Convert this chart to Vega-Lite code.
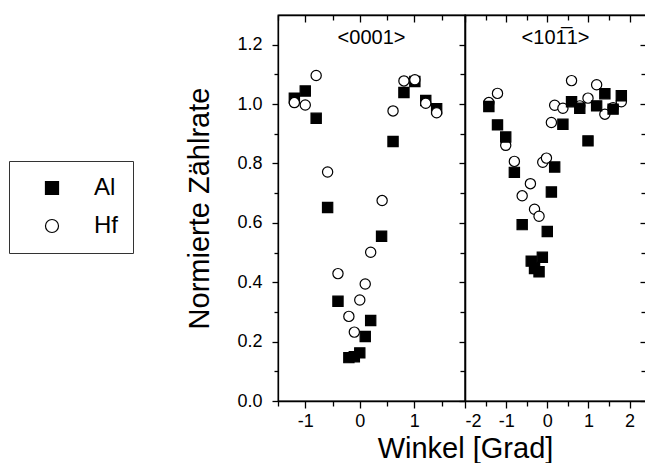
{
  "$schema": "https://vega.github.io/schema/vega-lite/v6.json",
  "padding": {"left": 8, "top": 13, "right": 0, "bottom": 0},
  "spacing": 0,
  "bounds": "flush",
  "datasets": {
    "left": [
      {"x": -1.2, "y": 1.02, "el": "Al"},
      {"x": -1.0, "y": 1.044, "el": "Al"},
      {"x": -0.8, "y": 0.952, "el": "Al"},
      {"x": -0.59, "y": 0.652, "el": "Al"},
      {"x": -0.4, "y": 0.336, "el": "Al"},
      {"x": -0.2, "y": 0.146, "el": "Al"},
      {"x": -0.1, "y": 0.149, "el": "Al"},
      {"x": 0.0, "y": 0.162, "el": "Al"},
      {"x": 0.1, "y": 0.217, "el": "Al"},
      {"x": 0.2, "y": 0.271, "el": "Al"},
      {"x": 0.4, "y": 0.555, "el": "Al"},
      {"x": 0.61, "y": 0.874, "el": "Al"},
      {"x": 0.81, "y": 1.039, "el": "Al"},
      {"x": 1.01, "y": 1.076, "el": "Al"},
      {"x": 1.21, "y": 1.012, "el": "Al"},
      {"x": 1.41, "y": 0.984, "el": "Al"},
      {"x": -1.2, "y": 1.005, "el": "Hf"},
      {"x": -1.0, "y": 0.997, "el": "Hf"},
      {"x": -0.8, "y": 1.096, "el": "Hf"},
      {"x": -0.59, "y": 0.771, "el": "Hf"},
      {"x": -0.4, "y": 0.429, "el": "Hf"},
      {"x": -0.2, "y": 0.285, "el": "Hf"},
      {"x": -0.1, "y": 0.232, "el": "Hf"},
      {"x": 0.0, "y": 0.34, "el": "Hf"},
      {"x": 0.1, "y": 0.394, "el": "Hf"},
      {"x": 0.2, "y": 0.501, "el": "Hf"},
      {"x": 0.41, "y": 0.675, "el": "Hf"},
      {"x": 0.61, "y": 0.977, "el": "Hf"},
      {"x": 0.81, "y": 1.078, "el": "Hf"},
      {"x": 1.01, "y": 1.082, "el": "Hf"},
      {"x": 1.21, "y": 1.003, "el": "Hf"},
      {"x": 1.41, "y": 0.971, "el": "Hf"}
    ],
    "right": [
      {"x": -1.42, "y": 1.005, "el": "Hf"},
      {"x": -1.21, "y": 1.036, "el": "Hf"},
      {"x": -1.01, "y": 0.861, "el": "Hf"},
      {"x": -0.8, "y": 0.807, "el": "Hf"},
      {"x": -0.61, "y": 0.691, "el": "Hf"},
      {"x": -0.41, "y": 0.732, "el": "Hf"},
      {"x": -0.31, "y": 0.646, "el": "Hf"},
      {"x": -0.2, "y": 0.622, "el": "Hf"},
      {"x": -0.11, "y": 0.804, "el": "Hf"},
      {"x": -0.02, "y": 0.818, "el": "Hf"},
      {"x": 0.1, "y": 0.938, "el": "Hf"},
      {"x": 0.18, "y": 0.996, "el": "Hf"},
      {"x": 0.38, "y": 0.986, "el": "Hf"},
      {"x": 0.59, "y": 1.079, "el": "Hf"},
      {"x": 0.79, "y": 0.994, "el": "Hf"},
      {"x": 0.99, "y": 1.02, "el": "Hf"},
      {"x": 1.2, "y": 1.065, "el": "Hf"},
      {"x": 1.4, "y": 0.966, "el": "Hf"},
      {"x": 1.6, "y": 0.988, "el": "Hf"},
      {"x": 1.8, "y": 1.008, "el": "Hf"},
      {"x": -1.42, "y": 0.992, "el": "Al"},
      {"x": -1.21, "y": 0.93, "el": "Al"},
      {"x": -1.01, "y": 0.889, "el": "Al"},
      {"x": -0.8, "y": 0.77, "el": "Al"},
      {"x": -0.61, "y": 0.594, "el": "Al"},
      {"x": -0.39, "y": 0.471, "el": "Al"},
      {"x": -0.31, "y": 0.446, "el": "Al"},
      {"x": -0.2, "y": 0.435, "el": "Al"},
      {"x": -0.12, "y": 0.484, "el": "Al"},
      {"x": 0.0, "y": 0.571, "el": "Al"},
      {"x": 0.1, "y": 0.704, "el": "Al"},
      {"x": 0.18, "y": 0.788, "el": "Al"},
      {"x": 0.38, "y": 0.932, "el": "Al"},
      {"x": 0.59, "y": 1.008, "el": "Al"},
      {"x": 0.79, "y": 0.986, "el": "Al"},
      {"x": 0.99, "y": 0.876, "el": "Al"},
      {"x": 1.2, "y": 0.994, "el": "Al"},
      {"x": 1.4, "y": 1.035, "el": "Al"},
      {"x": 1.6, "y": 0.983, "el": "Al"},
      {"x": 1.8, "y": 1.028, "el": "Al"}
    ]
  },
  "hconcat": [
    {
      "width": 187,
      "height": 386,
      "data": {"name": "left"},
      "title": {"text": "<0001>", "offset": -50, "baseline": "alphabetic", "frame": "group", "anchor": "middle", "fontSize": 20, "font": "Liberation Sans", "fontWeight": "normal", "color": "black"},
      "layer": [
        {
          "mark": {"type": "point", "filled": true, "strokeWidth": 1.2, "opacity": 1, "size": 105},
          "encoding": {
            "x": {"field": "x", "type": "quantitative", "scale": {"domain": [-1.5, 1.93], "nice": false, "zero": false},
              "axis": {"orient": "bottom", "values": [-1.5, -1, -0.5, 0, 0.5, 1, 1.5], "labelExpr": "datum.value % 1 == 0 ? toString(datum.value) : ''",
                "tickSize": {"condition": {"test": "datum.value % 1 == 0", "value": 7}, "value": 5},
                "title": "Winkel [Grad]", "titleX": 187, "titleAlign": "center", "labelPadding": 4, "titlePadding": 4}},
            "y": {"field": "y", "type": "quantitative", "scale": {"domain": [0, 1.3], "nice": false, "zero": false},
              "axis": {"orient": "left", "values": [0, 0.1, 0.2, 0.3, 0.4, 0.5, 0.6, 0.7, 0.8, 0.9, 1.0, 1.1, 1.2],
                "labelExpr": "round(datum.value*10) % 2 == 0 ? format(datum.value, '.1f') : ''",
                "tickSize": {"condition": {"test": "round(datum.value*10) % 2 == 0", "value": 6}, "value": 4},
                "title": "Normierte Zählrate", "labelPadding": 10, "titlePadding": 22}},
            "shape": {"field": "el", "type": "nominal", "scale": {"domain": ["Al", "Hf"], "range": ["square", "circle"]},
              "legend": {"title": null, "orient": "none", "legendX": -269, "legendY": 146, "strokeColor": "#333", "padding": 15, "labelFontSize": 24, "labelFont": "Liberation Sans", "labelColor": "black", "symbolSize": 170, "symbolStrokeWidth": 1.2, "rowPadding": 14, "labelOffset": 30, "symbolOffset": 16}},
            "fill": {"field": "el", "type": "nominal", "scale": {"domain": ["Al", "Hf"], "range": ["black", "white"]},
              "legend": {"title": null, "orient": "none", "legendX": -269, "legendY": 146, "strokeColor": "#333", "padding": 15, "labelFontSize": 24, "labelFont": "Liberation Sans", "labelColor": "black", "symbolSize": 170, "symbolStrokeWidth": 1.2, "rowPadding": 14, "labelOffset": 30, "symbolOffset": 16}},
            "stroke": {"field": "el", "type": "nominal", "scale": {"domain": ["Al", "Hf"], "range": ["black", "black"]},
              "legend": {"title": null, "orient": "none", "legendX": -269, "legendY": 146, "strokeColor": "#333", "padding": 15, "labelFontSize": 24, "labelFont": "Liberation Sans", "labelColor": "black", "symbolSize": 170, "symbolStrokeWidth": 1.2, "rowPadding": 14, "labelOffset": 30, "symbolOffset": 16}}
          }
        },
        {
          "mark": {"type": "point", "opacity": 0},
          "encoding": {
            "x": {"field": "x", "type": "quantitative",
              "axis": {"orient": "top", "values": [-1.5, -1, -0.5, 0, 0.5, 1, 1.5], "labels": false, "title": null,
                "tickSize": {"condition": {"test": "datum.value % 1 == 0", "value": -7}, "value": -5}}},
            "y": {"field": "y", "type": "quantitative",
              "axis": {"orient": "right", "ticks": false, "labels": false, "title": null}}
          }
        }
      ],
      "resolve": {"axis": {"x": "independent", "y": "independent"}}
    },
    {
      "width": 181,
      "height": 386,
      "data": {"name": "right"},
      "title": {"text": "<101̅1>", "offset": -50, "baseline": "alphabetic", "frame": "group", "anchor": "middle", "fontSize": 20, "font": "Liberation Sans", "fontWeight": "normal", "color": "black"},
      "layer": [
        {
          "mark": {"type": "point", "filled": true, "strokeWidth": 1.2, "opacity": 1, "size": 105},
          "encoding": {
            "x": {"field": "x", "type": "quantitative", "scale": {"domain": [-2, 2.4], "nice": false, "zero": false},
              "axis": {"orient": "bottom", "values": [-2, -1.5, -1, -0.5, 0, 0.5, 1, 1.5, 2], "labelExpr": "datum.value % 1 == 0 ? toString(datum.value) : ''",
                "tickSize": {"condition": {"test": "datum.value % 1 == 0", "value": 7}, "value": 5},
                "title": null, "labelPadding": 4}},
            "y": {"field": "y", "type": "quantitative", "scale": {"domain": [0, 1.3], "nice": false, "zero": false},
              "axis": {"orient": "left", "values": [0, 0.1, 0.2, 0.3, 0.4, 0.5, 0.6, 0.7, 0.8, 0.9, 1.0, 1.1, 1.2],
                "labels": false, "title": null,
                "tickSize": {"condition": {"test": "round(datum.value*10) % 2 == 0", "value": 6}, "value": 5}}},
            "shape": {"field": "el", "type": "nominal", "scale": {"domain": ["Al", "Hf"], "range": ["square", "circle"]},
              "legend": {"title": null, "orient": "none", "legendX": -269, "legendY": 146, "strokeColor": "#333", "padding": 15, "labelFontSize": 24, "labelFont": "Liberation Sans", "labelColor": "black", "symbolSize": 170, "symbolStrokeWidth": 1.2, "rowPadding": 14, "labelOffset": 30, "symbolOffset": 16}},
            "fill": {"field": "el", "type": "nominal", "scale": {"domain": ["Al", "Hf"], "range": ["black", "white"]},
              "legend": {"title": null, "orient": "none", "legendX": -269, "legendY": 146, "strokeColor": "#333", "padding": 15, "labelFontSize": 24, "labelFont": "Liberation Sans", "labelColor": "black", "symbolSize": 170, "symbolStrokeWidth": 1.2, "rowPadding": 14, "labelOffset": 30, "symbolOffset": 16}},
            "stroke": {"field": "el", "type": "nominal", "scale": {"domain": ["Al", "Hf"], "range": ["black", "black"]},
              "legend": {"title": null, "orient": "none", "legendX": -269, "legendY": 146, "strokeColor": "#333", "padding": 15, "labelFontSize": 24, "labelFont": "Liberation Sans", "labelColor": "black", "symbolSize": 170, "symbolStrokeWidth": 1.2, "rowPadding": 14, "labelOffset": 30, "symbolOffset": 16}}
          }
        },
        {
          "mark": {"type": "point", "opacity": 0},
          "encoding": {
            "x": {"field": "x", "type": "quantitative",
              "axis": {"orient": "top", "values": [-2, -1.5, -1, -0.5, 0, 0.5, 1, 1.5, 2], "labels": false, "title": null,
                "tickSize": {"condition": {"test": "datum.value % 1 == 0", "value": -7}, "value": -5}}},
            "y": {"field": "y", "type": "quantitative",
              "axis": {"orient": "right", "values": [0, 0.1, 0.2, 0.3, 0.4, 0.5, 0.6, 0.7, 0.8, 0.9, 1.0, 1.1, 1.2], "labels": false, "title": null,
                "tickSize": {"condition": {"test": "round(datum.value*10) % 2 == 0", "value": -6}, "value": -5}}}
          }
        }
      ],
      "resolve": {"axis": {"x": "independent", "y": "independent"}}
    }
  ],
  "config": {
    "font": "Liberation Sans",
    "view": {"stroke": "black", "strokeWidth": 1.3},
    "axis": {"grid": false, "domainColor": "black", "domainWidth": 1.3, "tickColor": "black", "tickWidth": 1.3,
      "labelFont": "Liberation Sans", "labelFontSize": 18, "labelColor": "black",
      "titleFont": "Liberation Sans", "titleFontSize": 29, "titleFontWeight": "normal", "titleColor": "black"}
  }
}
